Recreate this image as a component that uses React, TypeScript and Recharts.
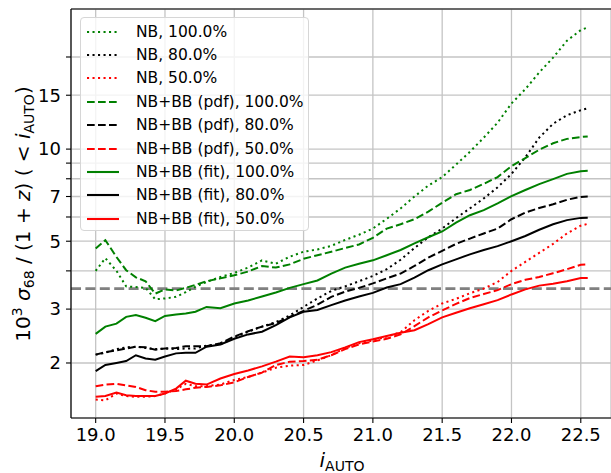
import React from 'react'
import {
  LineChart,
  Line,
  XAxis,
  YAxis,
  CartesianGrid,
  ReferenceLine,
  Legend,
} from 'recharts'

// magnitude bins
const X = [
  19.0, 19.07, 19.15, 19.22, 19.29, 19.36, 19.43, 19.5, 19.58, 19.65, 19.72, 19.8,
  19.9, 20.0, 20.1, 20.2, 20.3, 20.4, 20.5, 20.6, 20.7, 20.8, 20.9, 21.0, 21.1,
  21.2, 21.3, 21.4, 21.5, 21.6, 21.7, 21.8, 21.9, 22.0, 22.1, 22.2, 22.3, 22.4,
  22.5, 22.55,
]

const NB_100 = [
  4.0, 4.4, 4.0, 3.56, 3.54, 3.52, 3.23, 3.25, 3.29, 3.41, 3.55, 3.68,
  3.82, 3.94, 4.1, 4.33, 4.22, 4.45, 4.62, 4.7, 4.83, 5.05, 5.25, 5.5, 5.92,
  6.4, 7.0, 7.6, 8.1, 8.9, 9.8, 10.9, 12.2, 14.1, 15.7, 17.8, 19.9, 22.6,
  24.5, 25.0,
]
const NB_80 = [
  2.13, 2.16, 2.22, 2.25, 2.26, 2.24, 2.22, 2.23, 2.22, 2.23, 2.23, 2.28,
  2.3, 2.42, 2.53, 2.63, 2.72, 2.86, 3.05, 3.25, 3.44, 3.56, 3.7, 3.85, 4.05,
  4.35, 4.75, 5.15, 5.5, 5.95, 6.4, 6.9, 7.5, 8.3, 9.4, 10.9, 12.1, 12.9,
  13.4, 13.6,
]
const NB_50 = [
  1.52, 1.51, 1.59, 1.56, 1.55, 1.55, 1.56, 1.59, 1.64, 1.71, 1.68, 1.68,
  1.7, 1.76, 1.8, 1.86, 1.93, 1.96, 1.97, 2.04, 2.12, 2.24, 2.32, 2.37, 2.44,
  2.52, 2.76, 2.96, 3.13, 3.24, 3.38, 3.5, 3.68, 4.0, 4.28, 4.58, 4.9, 5.3,
  5.62, 5.7,
]
const PDF_100 = [
  4.73, 5.04, 4.44, 4.02, 3.81, 3.7, 3.37, 3.48, 3.45, 3.52, 3.6, 3.7,
  3.78, 3.87, 3.98, 4.15, 4.1, 4.2, 4.38, 4.5, 4.62, 4.75, 4.88, 5.13, 5.5,
  5.68, 5.9, 6.25, 6.68, 7.12, 7.35, 7.7, 8.1, 8.8, 9.35, 9.95, 10.45, 10.8,
  10.95, 11.0,
]
const PDF_80 = [
  2.13, 2.17, 2.2, 2.23, 2.26, 2.25, 2.21, 2.23, 2.24, 2.27, 2.27, 2.27,
  2.32, 2.44, 2.54, 2.63, 2.7, 2.83, 2.96, 3.1, 3.29, 3.42, 3.52, 3.64, 3.78,
  3.92, 4.15, 4.42, 4.65, 4.9, 5.1, 5.3, 5.5, 5.9, 6.2, 6.42, 6.6, 6.83,
  6.98, 7.0,
]
const PDF_50 = [
  1.68, 1.7, 1.71, 1.69, 1.67, 1.63, 1.61, 1.61, 1.62, 1.64, 1.66, 1.67,
  1.69, 1.73, 1.8, 1.86, 1.97, 2.02, 2.03, 2.05, 2.12, 2.22, 2.3, 2.35, 2.4,
  2.48, 2.64, 2.82, 2.97, 3.12, 3.26, 3.36, 3.46, 3.62, 3.74, 3.82, 3.93, 4.05,
  4.19, 4.2,
]
const FIT_100 = [
  2.49, 2.63, 2.69, 2.83, 2.87, 2.81, 2.74, 2.85, 2.88, 2.9, 2.94, 3.05,
  3.02, 3.13, 3.2, 3.3, 3.4, 3.52, 3.62, 3.72, 3.92, 4.1, 4.22, 4.33, 4.5,
  4.68, 4.92, 5.15, 5.38, 5.75, 6.08, 6.32, 6.65, 7.02, 7.35, 7.68, 7.98, 8.3,
  8.47, 8.5,
]
const FIT_80 = [
  1.88, 1.97, 2.0, 2.03, 2.12, 2.07, 2.05, 2.1, 2.15, 2.16, 2.16, 2.26,
  2.3, 2.4, 2.48, 2.53, 2.66, 2.82, 2.94, 2.98, 3.09, 3.2, 3.3, 3.39, 3.53,
  3.62, 3.8, 4.02, 4.2, 4.36, 4.53, 4.68, 4.82, 5.0, 5.2, 5.45, 5.68, 5.86,
  5.96, 5.97,
]
const FIT_50 = [
  1.55, 1.56, 1.6, 1.57, 1.56, 1.56, 1.56, 1.59, 1.65, 1.75, 1.71, 1.7,
  1.78, 1.84, 1.89, 1.95, 2.02, 2.1, 2.09, 2.12, 2.17, 2.25, 2.34, 2.39, 2.45,
  2.51, 2.56, 2.68, 2.82, 2.92, 3.02, 3.11, 3.21, 3.35, 3.48, 3.58, 3.63, 3.7,
  3.79, 3.79,
]

const X_TICKS = [19.0, 19.5, 20.0, 20.5, 21.0, 21.5, 22.0, 22.5]
const Y_TICKS = [2, 3, 4, 5, 6, 7, 8, 9, 10, 15, 20]
const Y_LABELED = [2, 3, 5, 7, 10, 15]
const TARGET = 3.5

const X_MIN = 18.822
const X_MAX = 22.718
const Y_MIN = 1.322
const Y_MAX = 28.7

const DOT = '2.1 3.4'
const DASH = '7.7 3.3'

const series = [
  { key: 'nb100', name: 'NB, 100.0%', color: '#008000', dash: DOT, values: NB_100 },
  { key: 'nb80', name: 'NB, 80.0%', color: '#000000', dash: DOT, values: NB_80 },
  { key: 'nb50', name: 'NB, 50.0%', color: '#ff0000', dash: DOT, values: NB_50 },
  { key: 'pdf100', name: 'NB+BB (pdf), 100.0%', color: '#008000', dash: DASH, values: PDF_100 },
  { key: 'pdf80', name: 'NB+BB (pdf), 80.0%', color: '#000000', dash: DASH, values: PDF_80 },
  { key: 'pdf50', name: 'NB+BB (pdf), 50.0%', color: '#ff0000', dash: DASH, values: PDF_50 },
  { key: 'fit100', name: 'NB+BB (fit), 100.0%', color: '#008000', dash: undefined, values: FIT_100 },
  { key: 'fit80', name: 'NB+BB (fit), 80.0%', color: '#000000', dash: undefined, values: FIT_80 },
  { key: 'fit50', name: 'NB+BB (fit), 50.0%', color: '#ff0000', dash: undefined, values: FIT_50 },
]

const data = X.map((x, i) => {
  const row: Record<string, number> = { x }
  series.forEach((s) => {
    row[s.key] = s.values[i]
  })
  return row
})

const FONT = 'DejaVu Sans, sans-serif'

function LegendBox() {
  return (
    <div
      style={{
        width: 229,
        height: 214,
        boxSizing: 'border-box',
        border: '1px solid #d6d6d6',
        borderRadius: 4,
        background: 'rgba(255,255,255,0.8)',
        paddingTop: 2,
        fontFamily: FONT,
        fontSize: 15.5,
        color: '#000',
      }}
    >
      {series.map((s) => (
        <div
          key={s.key}
          style={{ height: 23.4, display: 'flex', alignItems: 'center', whiteSpace: 'nowrap' }}
        >
          <svg width={44} height={10} style={{ marginLeft: 5, flex: 'none' }}>
            <line
              x1={1}
              x2={33}
              y1={5}
              y2={5}
              stroke={s.color}
              strokeWidth={2.1}
              strokeDasharray={s.dash}
            />
          </svg>
          <span style={{ marginLeft: 6 }}>{s.name}</span>
        </div>
      ))}
    </div>
  )
}

function YTitle() {
  return (
    <text
      transform="translate(29.5, 214) rotate(-90)"
      textAnchor="middle"
      fontFamily={FONT}
      fontSize={20}
      fill="#000"
    >
      <tspan>10</tspan>
      <tspan fontSize={14} dy={-8}>3</tspan>
      <tspan dy={8}> </tspan>
      <tspan fontStyle="italic">σ</tspan>
      <tspan fontSize={14} dy={4}>68</tspan>
      <tspan dy={-4}> / (1 + </tspan>
      <tspan fontStyle="italic">z</tspan>
      <tspan>) ( &lt; </tspan>
      <tspan fontStyle="italic">i</tspan>
      <tspan fontSize={14} dy={4}>AUTO</tspan>
      <tspan dy={-4}>)</tspan>
    </text>
  )
}

function XTitle() {
  return (
    <text x={342} y={467} textAnchor="middle" fontFamily={FONT} fontSize={20} fill="#000">
      <tspan fontStyle="italic">i</tspan>
      <tspan fontSize={14} dy={4}>AUTO</tspan>
    </text>
  )
}

export default function App() {
  return (
    <div style={{ width: 611, height: 473, background: '#fff' }}>
      <style>{'body { margin: 0; }'}</style>
      <LineChart
        width={611}
        height={473}
        data={data}
        margin={{ top: 9, right: 0, bottom: 0, left: 0 }}
      >
        <CartesianGrid stroke="#c4c4c4" strokeWidth={1.3} />
        <XAxis
          dataKey="x"
          type="number"
          domain={[X_MIN, X_MAX]}
          allowDataOverflow
          ticks={X_TICKS}
          interval={0}
          tickFormatter={(v: number) => v.toFixed(1)}
          height={55}
          tickSize={5}
          tickMargin={5}
          tick={{ fill: '#000', fontSize: 18, fontFamily: FONT }}
          tickLine={{ stroke: '#000', strokeWidth: 1.1 }}
          axisLine={{ stroke: '#000', strokeWidth: 1.2 }}
          label={<XTitle />}
        />
        <YAxis
          type="number"
          scale="log"
          domain={[Y_MIN, Y_MAX]}
          allowDataOverflow
          ticks={Y_TICKS}
          interval={0}
          tickFormatter={(v: number) => (Y_LABELED.includes(v) ? String(v) : '')}
          width={71}
          tickSize={5}
          tickMargin={5}
          tick={{ fill: '#000', fontSize: 18, fontFamily: FONT }}
          tickLine={{ stroke: '#000', strokeWidth: 1.1 }}
          axisLine={{ stroke: '#000', strokeWidth: 1.2 }}
          label={<YTitle />}
        />
        <ReferenceLine y={Y_MAX} stroke="#000" strokeWidth={1.2} />
        <ReferenceLine y={TARGET} stroke="#808080" strokeWidth={2.6} strokeDasharray="10 4.4" />
        {series.map((s) => (
          <Line
            key={s.key}
            dataKey={s.key}
            name={s.name}
            type="linear"
            stroke={s.color}
            strokeWidth={2}
            strokeDasharray={s.dash}
            dot={false}
            activeDot={false}
            isAnimationActive={false}
          />
        ))}
        <Legend
          layout="vertical"
          align="center"
          verticalAlign="middle"
          content={<LegendBox />}
          wrapperStyle={{ left: 80, top: 17, width: 229, height: 214 }}
        />
      </LineChart>
    </div>
  )
}
